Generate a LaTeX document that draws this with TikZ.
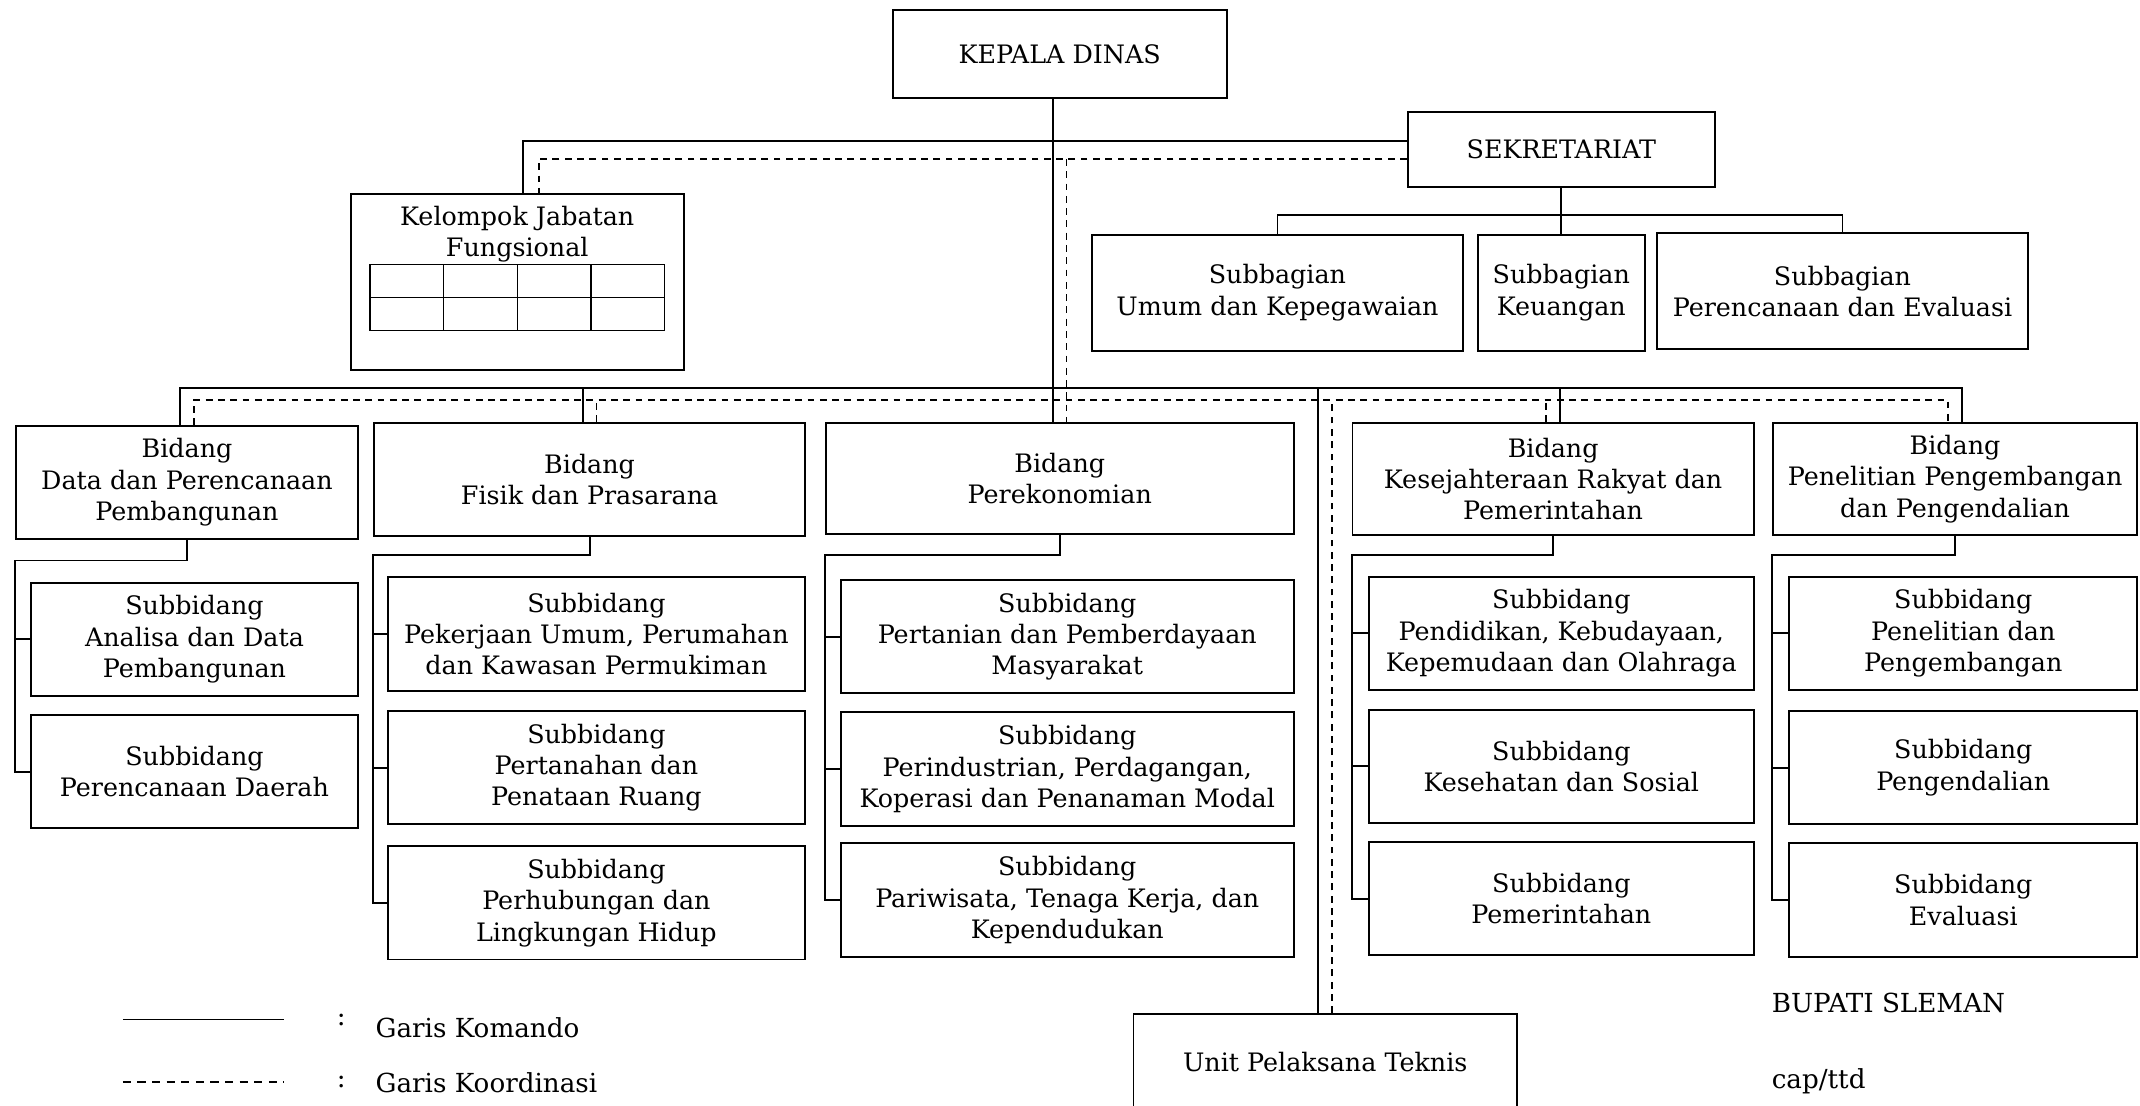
\documentclass[tikz,border=0pt]{standalone}
\usepackage{fontspec}
\setmainfont{DejaVu Serif}
\usetikzlibrary{calc,positioning}
\newcommand{\orgfont}{\fontsize{18.6}{23}\selectfont}
\newcommand{\sidefont}{\fontsize{19.2}{23}\selectfont}
\tikzset{
  orgbox/.style={draw, line width=1.4pt, align=center, inner sep=0pt, font=\orgfont},
  bidbox/.style={orgbox, minimum height=82pt},
  subbox/.style={orgbox, minimum height=83pt},
  kom/.style={line width=1.4pt},
  koor/.style={line width=1.3pt, dash pattern=on 5pt off 4pt},
  plaintext/.style={font=\sidefont, inner sep=0pt},
}

\begin{document}
\begin{tikzpicture}[x=1pt, y=-1pt]
  \useasboundingbox (0,0) rectangle (1568,810);

  % pimpinan dan sekretariat
  \node[orgbox, minimum width=245pt, minimum height=65pt] (kepala) at (776.5,39.5) {KEPALA DINAS};
  \node[orgbox, minimum width=225pt, minimum height=55pt] (sekre)  at (1144,109.5) {SEKRETARIAT};

  \node[subbox, minimum width=272pt, minimum height=85pt] (sbumum) at (936,214.5)  {Subbagian\\Umum dan Kepegawaian};
  \node[subbox, minimum width=122pt, minimum height=85pt] (sbkeu)  at (1144,214.5) {Subbagian\\Keuangan};
  \node[subbox, minimum width=272pt, minimum height=85pt] (sbren)  at (1350,213.5) {Subbagian\\Perencanaan dan Evaluasi};

  % kelompok jabatan fungsional
  \node[orgbox, minimum width=244pt, minimum height=129pt] (jabfung) at (379,206.5) {};
  \node[plaintext, font=\orgfont, align=center] (jabtitle) at (379,171.5) {Kelompok Jabatan\\Fungsional};
  \draw[line width=1pt] (271,194) rectangle (487,242);
  \draw[line width=1pt] (271,218) -- (487,218);
  \foreach \cx in {325,379,433}
    \draw[line width=1pt] (\cx,194) -- (\cx,242);

  % bidang
  \node[bidbox, minimum width=250pt, minimum height=83pt] (bdata)  at (137,353.5)  {Bidang\\Data dan Perencanaan\\Pembangunan};
  \node[bidbox, minimum width=316pt, minimum height=83pt] (bfisik) at (432,351.5)  {Bidang\\Fisik dan Prasarana};
  \node[bidbox, minimum width=343pt, minimum height=81pt] (bperek) at (776.5,350.5) {Bidang\\Perekonomian};
  \node[bidbox, minimum width=294pt] (bkesra) at (1138,351)   {Bidang\\Kesejahteraan Rakyat dan\\Pemerintahan};
  \node[bidbox, minimum width=267pt] (bpenel) at (1432.5,351) {Bidang\\Penelitian Pengembangan\\dan Pengendalian};

  % subbidang
  \node[subbox, minimum width=239pt] (sdata1) at (142.5,468.5) {Subbidang\\Analisa dan Data\\Pembangunan};
  \node[subbox, minimum width=239pt] (sdata2) at (142.5,565.5) {Subbidang\\Perencanaan Daerah};

  \node[subbox, minimum width=306pt] (sfisik1) at (437,464.5) {Subbidang\\Pekerjaan Umum, Perumahan\\dan Kawasan Permukiman};
  \node[subbox, minimum width=306pt] (sfisik2) at (437,562.5) {Subbidang\\Pertanahan dan\\Penataan Ruang};
  \node[subbox, minimum width=306pt] (sfisik3) at (437,661.5) {Subbidang\\Perhubungan dan\\Lingkungan Hidup};

  \node[subbox, minimum width=332pt] (sperek1) at (782,466.5) {Subbidang\\Pertanian dan Pemberdayaan\\Masyarakat};
  \node[subbox, minimum width=332pt] (sperek2) at (782,563.5) {Subbidang\\Perindustrian, Perdagangan,\\Koperasi dan Penanaman Modal};
  \node[subbox, minimum width=332pt] (sperek3) at (782,659.5) {Subbidang\\Pariwisata, Tenaga Kerja, dan\\Kependudukan};

  \node[subbox, minimum width=282pt] (skesra1) at (1144,464)   {Subbidang\\Pendidikan, Kebudayaan,\\Kepemudaan dan Olahraga};
  \node[subbox, minimum width=282pt] (skesra2) at (1144,561.5) {Subbidang\\Kesehatan dan Sosial};
  \node[subbox, minimum width=282pt] (skesra3) at (1144,658.5) {Subbidang\\Pemerintahan};

  \node[subbox, minimum width=255pt] (spenel1) at (1438.5,464)   {Subbidang\\Penelitian dan\\Pengembangan};
  \node[subbox, minimum width=255pt] (spenel2) at (1438.5,562.5) {Subbidang\\Pengendalian};
  \node[subbox, minimum width=255pt] (spenel3) at (1438.5,659.5) {Subbidang\\Evaluasi};

  % unit pelaksana teknis
  \node[orgbox, minimum width=281pt, minimum height=70pt] (upt) at (971,778) {Unit Pelaksana Teknis};

  % garis komando
  \coordinate (kbus) at (0,284);
  \coordinate (dbus) at (0,293);
  \draw[kom] ($(kepala.south)+(-5,0)$) -- ($(bperek.north)+(-5,0)$);
  \draw[kom] ($(sekre.west)+(0,-6)$) -| ($(jabfung.north)+(4,0)$);
  \draw[kom] (sekre.south) -- ++(0,20) coordinate (sbus);
  \draw[kom] (sbumum.north) |- (sbus) -| (sbren.north);
  \draw[kom] (sbus) -- (sbkeu.north);
  \draw[kom] ($(bdata.north)+(-5,0)$) |- ($(bpenel.north |- kbus)+(5,0)$) -- ($(bpenel.north)+(5,0)$);
  \draw[kom] ($(bfisik.north)+(-5,0)$) -- ($(bfisik.north |- kbus)+(-5,0)$);
  \draw[kom] ($(bkesra.north)+(5,0)$) -- ($(bkesra.north |- kbus)+(5,0)$);
  \draw[kom] ($(upt.north)+(-5,0)$) -- ($(upt.north |- kbus)+(-5,0)$);

  \draw[kom] (bdata.south) -- ++(0,15) -| (bdata.west |- sdata2.west) -- (sdata2.west);
  \draw[kom] (bdata.west |- sdata1.west) -- (sdata1.west);

  \draw[kom] (bfisik.south) -- ++(0,13) -| (bfisik.west |- sfisik3.west) -- (sfisik3.west);
  \draw[kom] (bfisik.west |- sfisik1.west) -- (sfisik1.west);
  \draw[kom] (bfisik.west |- sfisik2.west) -- (sfisik2.west);

  \draw[kom] (bperek.south) -- ++(0,15) -| (bperek.west |- sperek3.west) -- (sperek3.west);
  \draw[kom] (bperek.west |- sperek1.west) -- (sperek1.west);
  \draw[kom] (bperek.west |- sperek2.west) -- (sperek2.west);

  \draw[kom] (bkesra.south) -- ++(0,14) -| (bkesra.west |- skesra3.west) -- (skesra3.west);
  \draw[kom] (bkesra.west |- skesra1.west) -- (skesra1.west);
  \draw[kom] (bkesra.west |- skesra2.west) -- (skesra2.west);

  \draw[kom] (bpenel.south) -- ++(0,14) -| (bpenel.west |- spenel3.west) -- (spenel3.west);
  \draw[kom] (bpenel.west |- spenel1.west) -- (spenel1.west);
  \draw[kom] (bpenel.west |- spenel2.west) -- (spenel2.west);

  % garis koordinasi
  \draw[koor] ($(sekre.west)+(0,7)$) -| ($(jabfung.north)+(16,0)$);
  \draw[koor] ($(bperek.north |- sekre.west)+(5,7)$) -- ($(bperek.north)+(5,0)$);
  \draw[koor] ($(bdata.north)+(5,0)$) |- ($(bpenel.north |- dbus)+(-5,0)$) -- ($(bpenel.north)+(-5,0)$);
  \draw[koor] ($(bfisik.north)+(5,0)$) -- ($(bfisik.north |- dbus)+(5,0)$);
  \draw[koor] ($(bkesra.north)+(-5,0)$) -- ($(bkesra.north |- dbus)+(-5,0)$);
  \draw[koor] ($(upt.north)+(5,0)$) -- ($(upt.north |- dbus)+(5,0)$);

  % keterangan
  \node[plaintext, anchor=west] (lgkom)  at (275,753) {Garis Komando};
  \node[plaintext, anchor=west] (lgkoor) at (275,793) {Garis Koordinasi};
  \node[plaintext] (lgkomc)  at (250,747) {:};
  \node[plaintext] (lgkoorc) at (250,793) {:};
  \coordinate (lgkomL) at (90,747);
  \coordinate (lgkoorL) at (90,793);
  \draw[kom] (lgkomL) -- ++(118,0);
  \draw[koor, dash pattern=on 6pt off 4.7pt] (lgkoorL) -- ++(118,0);

  \node[plaintext, anchor=west] (bupati) at (1298,735) {BUPATI SLEMAN};
  \node[plaintext, anchor=west] (capttd) at (1298,792) {cap/ttd};
\end{tikzpicture}
\end{document}
